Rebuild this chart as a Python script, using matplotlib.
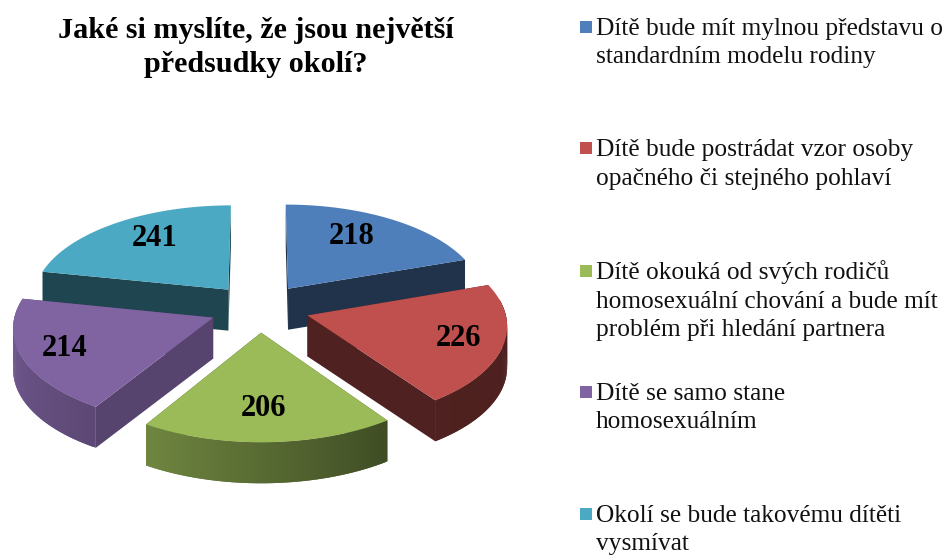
import numpy as np
import matplotlib
matplotlib.use("Agg")
import matplotlib.pyplot as plt
from matplotlib.patches import Polygon, Rectangle

title_lines = ["Jaké si myslíte, že jsou největší", "předsudky okolí?"]
values = [218, 226, 206, 214, 241]
legend_labels = [
    ["Dítě bude mít mylnou představu o", "standardním modelu rodiny"],
    ["Dítě bude postrádat vzor osoby", "opačného či stejného pohlaví"],
    ["Dítě okouká od svých rodičů", "homosexuální chování a bude mít", "problém při hledání partnera"],
    ["Dítě se samo stane", "homosexuálním"],
    ["Okolí se bude takovému dítěti", "vysmívat"],
]
colors = ["#4F7FBB", "#C0504D", "#9BBB59", "#8064A2", "#4BA9C4"]
face_shade = [0.40, 0.41, 0.41, 0.68, 0.41]
label_xy = [(352, 236), (459, 338), (264, 408), (65, 347), (155, 238)]
legend_y = [28, 149, 272, 393, 514.5]

CX, CY, RX, RY, EXPL, PERSP, DEPTH = 259.5, 308, 197, 95, 0.254, 0.09, 41

plt.rcParams["font.family"] = ["Liberation Serif", "DejaVu Serif"]
fig = plt.figure(figsize=(9.48, 5.56), dpi=100, facecolor="white")
ax = fig.add_axes([0, 0, 1, 1])
ax.set_xlim(0, 948)
ax.set_ylim(556, 0)
ax.axis("off")


def project(u, v):
    s = 1 / (1 + PERSP * v)
    return CX + RX * u * s, CY - RY * v * s


def shade(col, f):
    return tuple(c * f for c in matplotlib.colors.to_rgb(col))


def arc_shade(theta):
    return np.interp(theta, [90, 145, 211.7, 285], [0.40, 0.41, 0.72, 0.94])


fractions = np.array(values) / np.sum(values)
edges = np.concatenate([[0], np.cumsum(fractions) * 360])

draw_order = [0, 4, 1, 3, 2]
for rank, i in enumerate(draw_order):
    z = 2 + rank
    a0, a1 = edges[i], edges[i + 1]
    mid = np.radians((a0 + a1) / 2)
    ou, ov = EXPL * np.sin(mid), EXPL * np.cos(mid)
    th = np.radians(np.linspace(a0, a1, 90))
    xs, ys = project(ou + np.sin(th), ov + np.cos(th))
    px, py = project(ou, ov)
    col = colors[i]
    # radial walls
    for ex, ey in ((xs[0], ys[0]), (xs[-1], ys[-1])):
        ax.add_patch(Polygon([(px, py), (ex, ey), (ex, ey + DEPTH), (px, py + DEPTH)],
                             closed=True, fc=shade(col, face_shade[i]), ec="none", zorder=z))
    # outer wall, front half only; strips overlap so no seams show
    for k in range(len(th) - 1):
        deg = np.degrees(th[k])
        if deg < 80 or deg > 281:
            continue
        e = min(k + 2, len(th) - 1)
        ax.add_patch(Polygon([(xs[k], ys[k]), (xs[e], ys[e]),
                              (xs[e], ys[e] + DEPTH), (xs[k], ys[k] + DEPTH)],
                             closed=True, fc=shade(col, arc_shade(deg)), ec="none", zorder=z))
    # top face
    ax.add_patch(Polygon(np.column_stack([np.r_[px, xs], np.r_[py, ys]]),
                         closed=True, fc=col, ec="none", zorder=z))

for v, (x, y) in zip(values, label_xy):
    ax.text(x, y + 1, str(v), ha="center", va="center", fontsize=22,
            fontweight="bold", color="black", zorder=10)

for t, y in zip(title_lines, (30, 64)):
    ax.text(256, y, t, ha="center", va="center", fontsize=21.7,
            fontweight="bold", color="black")

for lines, y0, col in zip(legend_labels, legend_y, colors):
    ax.add_patch(Rectangle((580, y0 - 7), 12, 12, fc=col, ec="none"))
    for j, line in enumerate(lines):
        ax.text(596, y0 + 7 + j * 28.5, line, ha="left", va="baseline", fontsize=18.3,
                color="#111111")

fig.savefig("out.png", dpi=100)
